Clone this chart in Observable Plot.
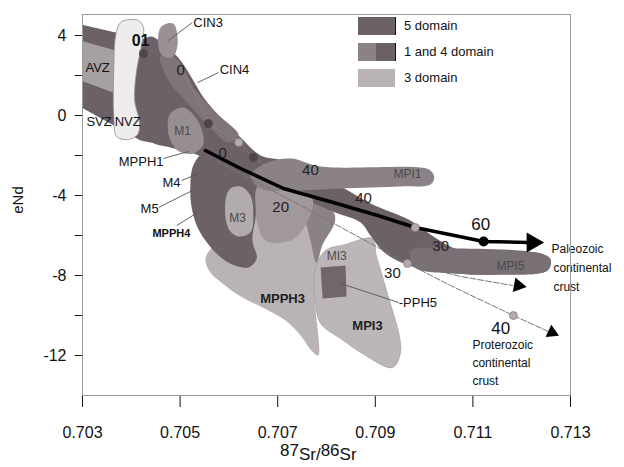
<!DOCTYPE html>
<html><head><meta charset="utf-8">
<script src="https://cdn.jsdelivr.net/npm/d3@7"></script>
<script src="https://cdn.jsdelivr.net/npm/@observablehq/plot@0.6"></script>
<style>
body{margin:0;background:#fff;font-family:'Liberation Sans',Arial,Helvetica,sans-serif;}
#wrap{position:relative;width:624px;height:467px;overflow:hidden;}
.ov{position:absolute;color:#111;white-space:nowrap;line-height:1;}
.sw{position:absolute;width:37px;height:18px;}
</style></head><body><div id="wrap"></div>
<script>
// ---- axes ----
const xTicks = [0.703, 0.705, 0.707, 0.709, 0.711, 0.713];
const yTicks = [-12, -10, -8, -6, -4, -2, 0, 2, 4];
const legendNames = ["5 domain", "1 and 4 domain", "3 domain"];

// ---- domain polygons [87Sr/86Sr, eNd] ----
const avzOuter = [[0.7028,4.65],[0.70439,3.75],[0.70470,3.0],[0.70497,0.75],[0.70497,-1.0],[0.70470,-1.5],[0.70419,-1.25],[0.7028,0.65]];
const avzInner = [[0.7028,3.85],[0.70368,3.25],[0.70398,2.85],[0.70403,1.0],[0.70368,1.1],[0.7028,1.9]];
const centralDark = [[0.70419,3.5],[0.70439,3.95],[0.70470,3.5],[0.70501,2.75],[0.70527,1.75],[0.70548,0.9],[0.70583,-0.1],[0.70624,-1.1],[0.70665,-2.0],[0.70716,-2.35],[0.70716,-3.15],[0.70644,-3.25],[0.70573,-2.35],[0.70521,-1.85],[0.70480,-1.6],[0.70439,-1.25],[0.70429,0.25],[0.70423,1.75]];
const centralStrip = [[0.70460,3.0],[0.70491,2.85],[0.70532,1.25],[0.70573,0.15],[0.7062,-1.0],[0.70599,-1.35],[0.70552,-0.35],[0.70511,0.75],[0.70476,1.75]];
const m1Field = [[0.70480,0.1],[0.70507,0.4],[0.70536,-0.25],[0.70548,-1.4],[0.70527,-1.9],[0.70495,-1.75],[0.70476,-0.9]];
const cin3Field = [[0.7046,4.4],[0.70486,4.6],[0.70495,3.6],[0.70484,2.9],[0.7046,3.1]];
const volcanicFront = [[0.70378,4.65],[0.70398,4.8],[0.70415,4.75],[0.70425,4.4],[0.70421,3.5],[0.70411,2.25],[0.70407,0.75],[0.70417,-0.35],[0.70413,-0.95],[0.70394,-1.2],[0.7037,-1.05],[0.70364,0],[0.70364,2.25],[0.70368,4.0]];
const mpph3Field = [[0.70552,-7.15],[0.70579,-6.15],[0.70624,-4.0],[0.70675,-3.15],[0.70736,-3.75],[0.70792,-4.25],[0.70818,-5.0],[0.70798,-6.0],[0.70783,-7.35],[0.70777,-9.25],[0.70783,-12.0],[0.70769,-11.75],[0.70747,-11.0],[0.70716,-10.25],[0.70669,-9.6],[0.70624,-9.05],[0.70587,-8.4],[0.70562,-7.85]];
const mpi3Field = [[0.70777,-7.65],[0.70798,-6.75],[0.70839,-6.45],[0.70894,-6.15],[0.70902,-7.0],[0.70921,-8.6],[0.70952,-11.75],[0.70935,-12.6],[0.7088,-12.0],[0.70829,-11.15],[0.70788,-10.4],[0.70777,-9.25]];
const mi3Strip = [[0.70736,-4.15],[0.70798,-4.5],[0.70818,-5.15],[0.70791,-6.5],[0.70779,-7.35],[0.70767,-6.25],[0.70753,-5.0]];
const mainBand = [[0.70644,-2.25],[0.70695,-2.25],[0.70747,-2.65],[0.70829,-3.55],[0.7089,-4.4],[0.70972,-5.25],[0.71013,-5.95],[0.71058,-6.6],[0.71105,-6.85],[0.71239,-6.9],[0.71259,-7.2],[0.71253,-7.75],[0.71157,-7.95],[0.71064,-7.9],[0.70982,-7.6],[0.70921,-6.9],[0.7089,-6.0],[0.7087,-5.35],[0.70818,-4.85],[0.70747,-4.15],[0.70685,-3.75],[0.70644,-3.15]];
const field20 = [[0.70644,-3.15],[0.70716,-3.55],[0.70771,-4.15],[0.70757,-5.5],[0.70726,-6.25],[0.70675,-6.25],[0.70655,-5.0]];
const m45Field = [[0.70527,-2.5],[0.70552,-1.75],[0.70593,-1.65],[0.70634,-2.25],[0.70669,-3.0],[0.70655,-3.75],[0.70655,-5.0],[0.70648,-6.25],[0.70657,-7.15],[0.7064,-7.6],[0.70607,-7.45],[0.70579,-7.0],[0.70552,-6.25],[0.70534,-5.5],[0.70523,-4.5],[0.70521,-3.5]];
const m3Field = [[0.70593,-4.25],[0.70603,-3.65],[0.70624,-3.55],[0.70644,-4.0],[0.7065,-5.0],[0.70644,-5.85],[0.7062,-6.05],[0.70599,-5.65]];
const mpi1Field = [[0.70644,-3.0],[0.70675,-2.4],[0.70726,-2.15],[0.70788,-2.55],[0.70993,-2.6],[0.71013,-2.75],[0.71021,-3.1],[0.71013,-3.45],[0.70952,-3.55],[0.70829,-3.65],[0.70726,-3.75],[0.70665,-3.65]];
const mpi5Field = [[0.70972,-6.75],[0.71054,-6.65],[0.71239,-6.9],[0.71259,-7.2],[0.71253,-7.75],[0.71157,-7.95],[0.71064,-7.9],[0.70982,-7.6]];
const pph5Field = [[0.70788,-7.6],[0.70839,-7.5],[0.70841,-9.05],[0.70792,-9.15]];

// ---- mixing curves ----
const paleozoicCurve = [[0.70552,-1.75],[0.70624,-2.65],[0.70712,-3.65],[0.70814,-4.35],[0.70905,-5.0],[0.70982,-5.6],[0.71122,-6.3],[0.71214,-6.35]];
const proterozoicCurve = [[0.70573,-2.25],[0.70747,-4.5],[0.70966,-7.4],[0.71054,-8.5],[0.71183,-10.0],[0.71259,-10.85]];
const middleCurve = [[0.70966,-7.4],[0.71075,-8.05],[0.71181,-8.5]];
const cin4Curve = [[0.70501,2.35],[0.70532,1.0],[0.70558,-0.4],[0.7062,-1.35],[0.7065,-2.1],[0.70685,-2.65]];
const arrowHeads = [[0.71222,-6.35,90,7.5],[0.71193,-8.5,100,5.5],[0.71262,-10.85,115,5]];
const blackDots = [[0.71122,-6.3]];
const lightDots = [[0.70982,-5.6],[0.70966,-7.4],[0.71183,-10.0],[0.7062,-1.35]];
const darkDots = [[0.70558,-0.4],[0.7065,-2.1],[0.70425,3.1]];

// ---- labels ----
const numberLabels = [[0.70587,-1.9,"0"],[0.70706,-4.6,"20"],[0.70767,-2.75,"40"],[0.70876,-4.15,"40"],[0.71034,-6.55,"30"],[0.70935,-7.9,"30"],[0.70501,2.25,"0"]];
const bigNumberLabels = [[0.71116,-5.45,"60"],[0.71157,-10.65,"40"]];
const sampleLabels = [[0.70505,-0.8,"M1"],[0.70618,-5.15,"M3"],[0.70966,-2.95,"MPI1"],[0.70821,-7.05,"MI3"],[0.71177,-7.55,"MPI5"]];
const boldLabels = [[0.70884,-10.5,"MPI3"],[0.7071,-9.15,"MPPH3"]];
const startLabels = [[0.70527,4.65,"CIN3"],[0.70581,2.3,"CIN4"],[0.70306,2.4,"AVZ"],[0.70308,-0.3,"SVZ"],[0.70366,-0.3,"NVZ"],[0.70948,-9.35,"-PPH5"]];
const crustLabels = [[0.71261,-6.7,"Paleozoic"],[0.71265,-7.65,"continental"],[0.71265,-8.6,"crust"],[0.71099,-11.5,"Proterozoic"],[0.71099,-12.4,"continental"],[0.71099,-13.3,"crust"]];
const endLabels = [[0.70466,-2.3,"MPPH1"],[0.70501,-3.35,"M4"],[0.70456,-4.65,"M5"]];
const endSmallLabels = [[0.70521,-5.9,"MPPH4"]];
const leaders = [[0.70476,3.75,0.70525,4.65],[0.70536,1.65,0.70579,2.15],[0.70466,-2.15,0.70517,-1.8],[0.70503,-3.25,0.70538,-2.9],[0.70456,-4.6,0.70525,-3.75],[0.70493,-5.5,0.70536,-4.85],[0.70829,-8.4,0.70948,-9.35]];

const DARK = "#6b6166", MID = "#8b8287", LIGHT = "#b9b3b5";
const poly = (pts, fill, curve = "catmull-rom-closed", extra = {}) =>
  Plot.line(pts, {x: d => d[0], y: d => d[1], fill, stroke: "none", curve, clip: true, ...extra});
const txt = (arr, o) => Plot.text(arr, {x: d => d[0], y: d => d[1], text: d => d[2], ...o});

const chart = Plot.plot({
  width: 624, height: 467,
  marginLeft: 82, marginRight: 54, marginTop: 14, marginBottom: 72,
  style: {fontFamily: "'Liberation Sans', Arial, Helvetica, sans-serif", fontSize: "16px", background: "white", color: "#111"},
  x: {domain: [0.703, 0.713], ticks: xTicks, tickFormat: d3.format(".3f"), tickSize: 12, tickPadding: 19, label: null},
  y: {domain: [-14, 5.05], ticks: yTicks, tickFormat: d => d % 4 === 0 ? String(d) : "", tickSize: 7, tickPadding: 9, label: null},
  r: {type: "identity"},
  marks: [
    poly(avzOuter, DARK, "linear"),
    poly(avzInner, "#a7a0a3", "linear"),
    poly(centralDark, DARK),
    poly(centralStrip, "#7e7479"),
    poly(m1Field, "#978e92"),
    poly(cin3Field, "#9b9195"),
    poly(volcanicFront, "#efedec", "catmull-rom-closed", {stroke: "#8f8a8c", strokeWidth: 0.8}),
    poly(mpph3Field, LIGHT),
    poly(mpi3Field, "#bcb6b8", "catmull-rom-closed", {stroke: "#a29b9e", strokeWidth: 0.7}),
    poly(mi3Strip, MID),
    poly(mainBand, DARK),
    poly(field20, "#a0989b"),
    poly(m45Field, DARK),
    poly(m3Field, "#b2abae"),
    poly(mpi1Field, MID),
    poly(mpi5Field, "#787075"),
    poly(pph5Field, "#70666b", "linear"),
    Plot.line(proterozoicCurve, {x: d => d[0], y: d => d[1], stroke: "#777", strokeWidth: 1, strokeDasharray: "6,2"}),
    Plot.line(middleCurve, {x: d => d[0], y: d => d[1], stroke: "#777", strokeWidth: 1, strokeDasharray: "6,2"}),
    Plot.line(cin4Curve, {x: d => d[0], y: d => d[1], stroke: "#8a8a8a", strokeWidth: 1, strokeDasharray: "2,3"}),
    Plot.line(paleozoicCurve, {x: d => d[0], y: d => d[1], stroke: "#000", strokeWidth: 3.5}),
    Plot.dot(arrowHeads, {x: d => d[0], y: d => d[1], rotate: d => d[2], r: d => d[3], symbol: "triangle", fill: "#000", stroke: "none"}),
    Plot.dot(blackDots, {x: d => d[0], y: d => d[1], r: 5, fill: "#000"}),
    Plot.dot(lightDots, {x: d => d[0], y: d => d[1], r: 4, fill: "#b3abae", stroke: "#8a8286", strokeWidth: 0.8}),
    Plot.dot(darkDots, {x: d => d[0], y: d => d[1], r: 4.5, fill: "#4f464b"}),
    Plot.link(leaders, {x1: d => d[0], y1: d => d[1], x2: d => d[2], y2: d => d[3], stroke: "#555", strokeWidth: 0.9}),
    txt(numberLabels, {fontSize: 15, fill: "#222"}),
    txt(bigNumberLabels, {fontSize: 17, fill: "#111"}),
    txt([[0.70419, 3.75, "01"]], {fontSize: 16, fontWeight: "bold", fill: "#111"}),
    txt(sampleLabels, {fontSize: 12, fill: "#4a4a4a"}),
    txt(boldLabels, {fontSize: 13, fontWeight: "bold", fill: "#222"}),
    txt(startLabels, {fontSize: 13, textAnchor: "start", fill: "#111"}),
    txt(crustLabels, {fontSize: 12, textAnchor: "start", fill: "#111"}),
    txt(endLabels, {fontSize: 13, textAnchor: "end", fill: "#111"}),
    txt(endSmallLabels, {fontSize: 11, fontWeight: "bold", textAnchor: "end", fill: "#111"}),
    Plot.frame({stroke: "#9a9a9a"})
  ]
});
const wrap = document.getElementById("wrap");
wrap.appendChild(chart);

// legend (inside plot, top right)
const swColors = [[DARK, DARK], [MID, DARK], [LIGHT, LIGHT]];
const legTop = [17, 43, 69];
legendNames.forEach((name, i) => {
  const sw = document.createElement("div");
  sw.className = "sw";
  sw.style.left = "358px"; sw.style.top = legTop[i] + "px";
  sw.style.background = `linear-gradient(to right, ${swColors[i][0]} 50%, ${swColors[i][1]} 50%)`;
  if (i < 2) sw.style.borderRight = "1.5px solid #111";
  wrap.appendChild(sw);
  const t = document.createElement("div");
  t.className = "ov";
  t.style.left = "404px"; t.style.top = (legTop[i] + 2) + "px"; t.style.fontSize = "13px";
  t.textContent = name;
  wrap.appendChild(t);
});
// axis titles
const yl = document.createElement("div");
yl.className = "ov";
yl.style.left = "17px"; yl.style.top = "200px"; yl.style.fontSize = "15px";
yl.style.transform = "translate(-50%,-50%) rotate(-90deg)";
yl.textContent = "eNd";
wrap.appendChild(yl);
const xl = document.createElement("div");
xl.className = "ov";
xl.style.left = "280px"; xl.style.top = "446px"; xl.style.fontSize = "17px";
xl.innerHTML = '<span style="position:relative;top:-4px">87</span>Sr/<span style="position:relative;top:-4px">86</span>Sr';
wrap.appendChild(xl);
</script></body></html>
